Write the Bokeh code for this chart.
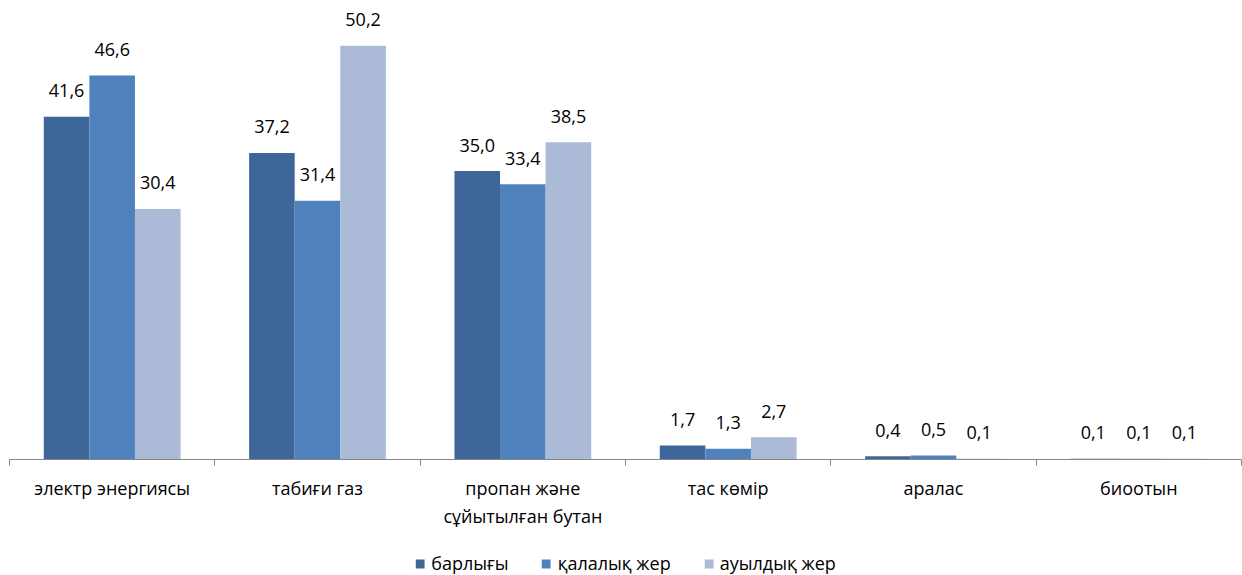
from bokeh.plotting import figure
from bokeh.layouts import column
from bokeh.models import ColumnDataSource, FixedTicker, Range1d, Legend, LegendItem, LinearAxis
from bokeh.core.properties import value
from bokeh.transform import dodge
from bokeh.embed import file_html
from bokeh.resources import INLINE

categories = ["электр энергиясы", "табиғи газ", "пропан және\nсұйытылған бутан",
              "тас көмір", "аралас", "биоотын"]
total = [41.6, 37.2, 35.0, 1.7, 0.4, 0.1]
urban = [46.6, 31.4, 33.4, 1.3, 0.5, 0.1]
rural = [30.4, 50.2, 38.5, 2.7, 0.1, 0.1]
series_names = ["барлығы", "қалалық жер", "ауылдық жер"]
colors = ["#3F6698", "#4F81BD", "#AABAD7"]

FONT = "Open Sans"
xc = [i + 0.5 for i in range(len(categories))]
bw = 0.222
offsets = [-bw, 0.0, bw]

p = figure(frame_width=1232, frame_height=459, x_range=Range1d(0, len(categories)),
           y_range=Range1d(0, 55.7),
           x_axis_type=None, y_axis_type=None, output_backend="svg", toolbar_location=None,
           min_border_left=9, min_border_right=1, min_border_top=0, min_border_bottom=85,
           outline_line_color=None, background_fill_color="white", border_fill_color="white")

for vals, name, col, off in zip([total, urban, rural], series_names, colors, offsets):
    src = ColumnDataSource(dict(x=xc, y=vals, lab=[f"{v:.1f}".replace(".", ",") for v in vals]))
    p.vbar(x=dodge("x", off), top="y", width=bw, bottom=0, source=src,
           fill_color=col, line_color=None)
    p.text(x=dodge("x", off), y="y", text="lab", source=src, text_align="center",
           text_baseline="alphabetic", y_offset=-26, text_font=value(FONT),
           text_font_size="18px", text_color="#000000")

ticker = FixedTicker(ticks=xc, minor_ticks=list(range(len(categories) + 1)))
ax = LinearAxis(ticker=ticker,
                major_label_overrides={x: c for x, c in zip(xc, categories)},
                axis_line_color="#868686", axis_line_width=1,
                major_tick_out=0, major_tick_in=0,
                minor_tick_out=6, minor_tick_in=0, minor_tick_line_color="#868686",
                major_label_text_font=FONT, major_label_text_font_size="18px",
                major_label_text_color="#000000", major_label_standoff=10)
p.add_layout(ax, "below")

# legend strip below the chart (proxy renderers lie outside its view)
lf = figure(frame_width=1232, frame_height=31, x_range=Range1d(0, 1), y_range=Range1d(0, 1),
            x_axis_type=None, y_axis_type=None, output_backend="svg", toolbar_location=None,
            min_border_left=9, min_border_right=1, min_border_top=0, min_border_bottom=0,
            outline_line_color=None, background_fill_color="white", border_fill_color="white")
items = []
for name, col in zip(series_names, colors):
    r = lf.vbar(x=[-10], top=[-10], bottom=[-11], width=0.1, fill_color=col, line_color=None)
    items.append(LegendItem(label=name, renderers=[r]))
legend = Legend(items=items, orientation="horizontal", location="bottom_center",
                border_line_color=None, glyph_width=11, glyph_height=11,
                label_text_font=FONT, label_text_font_size="18px", label_text_color="#000000",
                spacing=32, label_standoff=6, padding=0, margin=0,
                background_fill_alpha=0)
lf.add_layout(legend, "center")

layout = column(p, lf, spacing=0)
open("out.html", "w").write(file_html(layout, INLINE))
